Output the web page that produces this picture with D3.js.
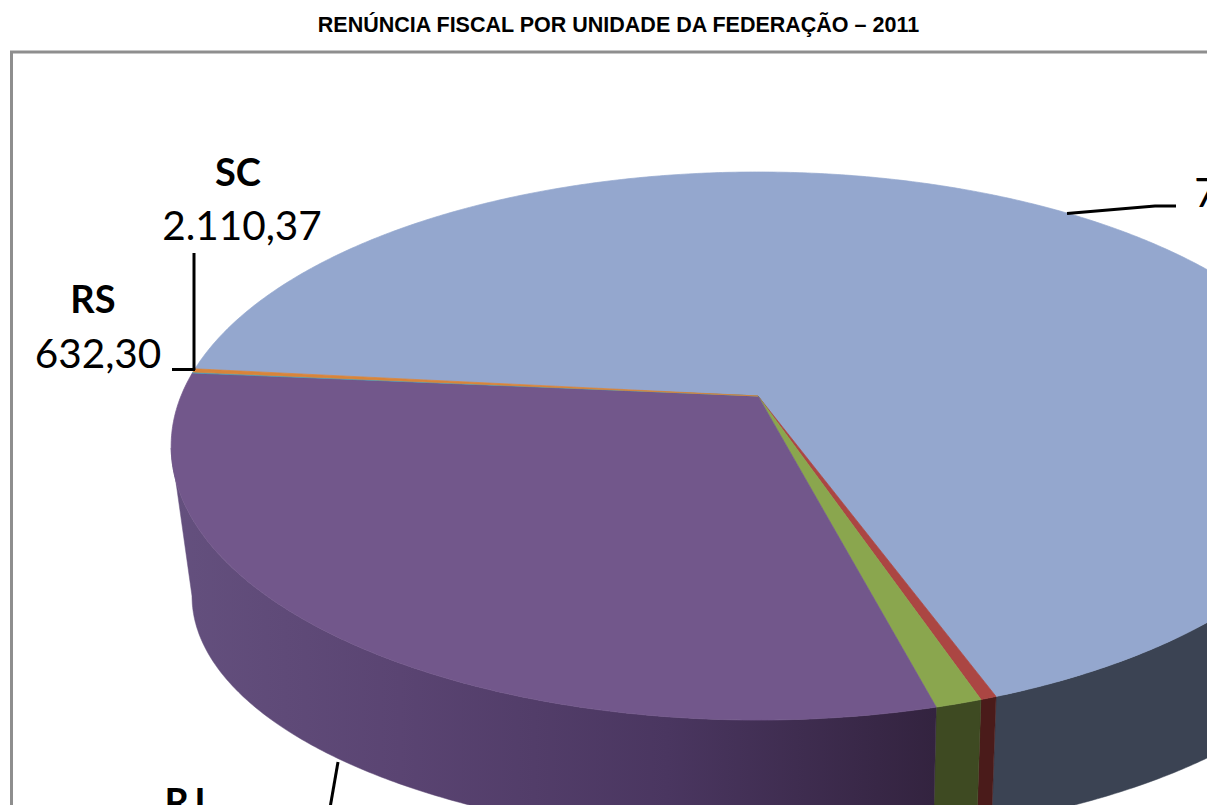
<!DOCTYPE html>
<html>
<head>
<meta charset="utf-8">
<title>Renúncia fiscal por unidade da federação</title>
<script src="https://cdn.jsdelivr.net/npm/d3@7"></script>
<style>
  html, body { margin: 0; padding: 0; background: #fff; overflow: hidden; }
  svg { display: block; }
  .title { font-family: "Liberation Sans", Arial, sans-serif; font-weight: bold; font-size: 21.5px; }
  .lbl { font-family: Lato, sans-serif; font-size: 40.5px; fill: #000; }
  .lbl.name { font-weight: bold; font-size: 38px; }
  .leader { fill: none; stroke: #000; stroke-width: 3px; }
</style>
</head>
<body>
<div id="chart"></div>
<script>
// values, slices that run off the crop are estimates
const ufs = ['SP', 'MG', 'PR', 'RJ', 'RS', 'SC'];
const values = [711700, 3940, 11380, 320237, 632.30, 2110.37];
const topColors = ['#94a7ce', '#ab4643', '#8aa64e', '#72578b', '#4f9fb5', '#d8843a'];
const wallColors = ['#3b4353', '#4a1b1a', '#3e4a22', 'url(#wallPurple)', '#2c5560', '#7a4a1c'];

const titleText = 'RENÚNCIA FISCAL POR UNIDADE DA FEDERAÇÃO – 2011';

const width = 1207;
const height = 805;

const svg = d3.select('#chart').append('svg')
  .attr('width', width)
  .attr('height', height);

const grad = svg.append('defs').append('linearGradient')
  .attr('id', 'wallPurple')
  .attr('gradientUnits', 'userSpaceOnUse')
  .attr('x1', 171).attr('x2', 935).attr('y1', 0).attr('y2', 0);
grad.append('stop').attr('offset', '0%').attr('stop-color', '#64507e');
grad.append('stop').attr('offset', '30%').attr('stop-color', '#5a4472');
grad.append('stop').attr('offset', '65%').attr('stop-color', '#4a3660');
grad.append('stop').attr('offset', '100%').attr('stop-color', '#33233f');

// frame runs past the right and bottom of the crop
svg.append('rect')
  .attr('x', 11.5).attr('y', 52)
  .attr('width', 1400).attr('height', 1000)
  .attr('fill', '#fff')
  .attr('stroke', '#8e8e8e')
  .attr('stroke-width', 3);

svg.append('text')
  .attr('class', 'title')
  .attr('x', 618.5).attr('y', 32)
  .attr('text-anchor', 'middle')
  .text(titleText);

// perspective: circle of the pie onto the top face ellipse, apex is the projected centre
const apex = { x: 758, y: 396 };
const persp = { a: 577, b: 264.9, k: -0.1825 };
const topRim = { cx: 758, cy: 446, rx: 587, ry: 274 };
const bottomRim = { cx: 772, cy: 596, rx: 580, ry: 245 };

function projectTop(angle) {
  const X = Math.sin(angle);
  const Y = -Math.cos(angle);
  const w = 1 + persp.k * Y;
  return [apex.x + persp.a * X / w, apex.y + persp.b * Y / w];
}

// side seams lean a little towards a vanishing point under the pie
function projectBottom(p) {
  const x = Math.max(bottomRim.cx - bottomRim.rx, p[0] * 0.97 + 842 * 0.03);
  const u = Math.min(1, Math.abs(x - bottomRim.cx) / bottomRim.rx);
  return [x, bottomRim.cy + bottomRim.ry * Math.sqrt(1 - u * u)];
}

const pie = d3.pie()
  .value(d => d)
  .sort(null)
  .startAngle(-84 * Math.PI / 180)
  .endAngle(276 * Math.PI / 180);

const slices = pie(values);
const line = d3.line();

function rimPoints(d) {
  const n = Math.max(2, Math.ceil((d.endAngle - d.startAngle) * 180 / Math.PI * 2));
  return d3.range(n + 1).map(i => projectTop(d.startAngle + (d.endAngle - d.startAngle) * i / n));
}

// side walls first, only the part of the rim in front of the widest line
svg.append('g').selectAll('path')
  .data(slices)
  .join('path')
  .attr('d', d => {
    const front = rimPoints(d).filter(p => p[1] >= topRim.cy);
    if (front.length < 2) return null;
    return line(front.concat(front.map(projectBottom).reverse())) + 'Z';
  })
  .attr('fill', (d, i) => wallColors[i])
  .attr('stroke', (d, i) => wallColors[i])
  .attr('stroke-width', 0.5);

svg.append('g').selectAll('path')
  .data(slices)
  .join('path')
  .attr('d', d => line([[apex.x, apex.y]].concat(rimPoints(d))) + 'Z')
  .attr('fill', (d, i) => topColors[i])
  .attr('stroke', (d, i) => topColors[i])
  .attr('stroke-width', 0.7);

// leader lines, anchored on the label positions
const leaders = [
  [[194, 253], [194, 370]],
  [[172, 369.5], [195, 369.5]],
  [[1067, 213.5], [1155, 206], [1176, 206]],
  [[338, 762], [330, 808]]
];
svg.append('g').selectAll('path')
  .data(leaders)
  .join('path')
  .attr('class', 'leader')
  .attr('d', d => line(d));

const labels = [
  { t: 'SC', x: 238, y: 186, name: true },
  { t: '2.110,37', x: 242, y: 240 },
  { t: 'RS', x: 93, y: 313, name: true },
  { t: '632,30', x: 98, y: 368 },
  { t: 'RJ', x: 185, y: 816, name: true },
  { t: '7', x: 1206, y: 207 }
];
svg.append('g').selectAll('text')
  .data(labels)
  .join('text')
  .attr('class', d => d.name ? 'lbl name' : 'lbl')
  .attr('x', d => d.x)
  .attr('y', d => d.y)
  .attr('text-anchor', 'middle')
  .text(d => d.t);
</script>
</body>
</html>
